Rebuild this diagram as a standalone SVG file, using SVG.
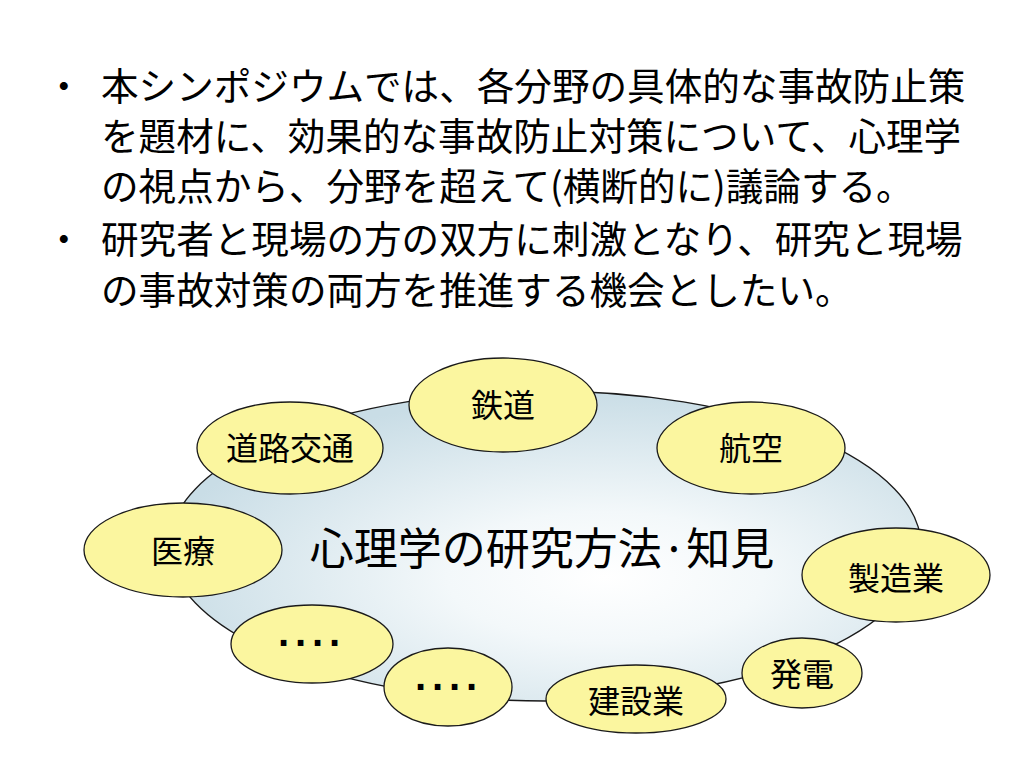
<svg xmlns="http://www.w3.org/2000/svg" width="1024" height="768" viewBox="0 0 1024 768">
  <defs>
    <radialGradient id="bg" cx="0.58" cy="0.6" r="0.6">
      <stop offset="0" stop-color="#ffffff"/>
      <stop offset="0.35" stop-color="#f3f8fa"/>
      <stop offset="1" stop-color="#c9dde6"/>
    </radialGradient>
  </defs>
  <style>
    .body { font-family: "Noto Sans CJK JP", "Noto Sans", sans-serif; font-size: 37.6px; fill: #000; }
    .node ellipse { fill: #fbf69f; stroke: #1a1a1a; stroke-width: 1.3; }
    .lbl { font-family: "Noto Sans CJK JP", "Noto Sans", sans-serif; font-size: 32px; fill: #000; text-anchor: middle; }
    .dots { font-family: "Liberation Sans", sans-serif; font-weight: bold; font-size: 40px; fill: #000; letter-spacing: 3.7px; }
  </style>
  <rect width="1024" height="768" fill="#ffffff"/>

  <g id="text-body">
    <text class="body" x="45" y="100">・</text>
    <text class="body" x="101" y="100">本シンポジウムでは、各分野の具体的な事故防止策</text>
    <text class="body" x="101" y="150">を題材に、効果的な事故防止対策について、心理学</text>
    <text class="body" x="101" y="200">の視点から、分野を超えて(横断的に)議論する。</text>
    <text class="body" x="45" y="253">・</text>
    <text class="body" x="101" y="253">研究者と現場の方の双方に刺激となり、研究と現場</text>
    <text class="body" x="101" y="304">の事故対策の両方を推進する機会としたい。</text>
  </g>

  <g id="center">
    <ellipse cx="545" cy="546" rx="376" ry="155" fill="url(#bg)" stroke="#1a1a1a" stroke-width="1.3"/>
    <text x="542" y="565" text-anchor="middle" font-family="Noto Sans CJK JP, Noto Sans, sans-serif" font-size="44" fill="#000">心理学の研究方法·知見</text>
  </g>

  <g id="connectors"></g>

  <g id="n-tetsudo" class="node">
    <ellipse cx="503" cy="405" rx="94" ry="47"/>
    <text class="lbl" x="503" y="417">鉄道</text>
  </g>
  <g id="n-doro" class="node">
    <ellipse cx="290" cy="448" rx="93" ry="46"/>
    <text class="lbl" x="290" y="460">道路交通</text>
  </g>
  <g id="n-koku" class="node">
    <ellipse cx="751" cy="448" rx="94" ry="46"/>
    <text class="lbl" x="751" y="460">航空</text>
  </g>
  <g id="n-iryo" class="node">
    <ellipse cx="183" cy="550" rx="99" ry="47"/>
    <text class="lbl" x="183" y="563">医療</text>
  </g>
  <g id="n-seizo" class="node">
    <ellipse cx="896" cy="575" rx="94" ry="47"/>
    <text class="lbl" x="896" y="590">製造業</text>
  </g>
  <g id="n-dots1" class="node">
    <ellipse cx="312" cy="644" rx="81" ry="39"/>
    <text class="dots" x="278" y="657">····</text>
  </g>
  <g id="n-dots2" class="node">
    <ellipse cx="448" cy="687" rx="64" ry="39"/>
    <text class="dots" x="415" y="701">····</text>
  </g>
  <g id="n-hatsuden" class="node">
    <ellipse cx="802" cy="673" rx="60" ry="35"/>
    <text class="lbl" x="802" y="686">発電</text>
  </g>
  <g id="n-kensetsu" class="node">
    <ellipse cx="636" cy="699" rx="90" ry="34"/>
    <text class="lbl" x="636" y="713">建設業</text>
  </g>
</svg>
